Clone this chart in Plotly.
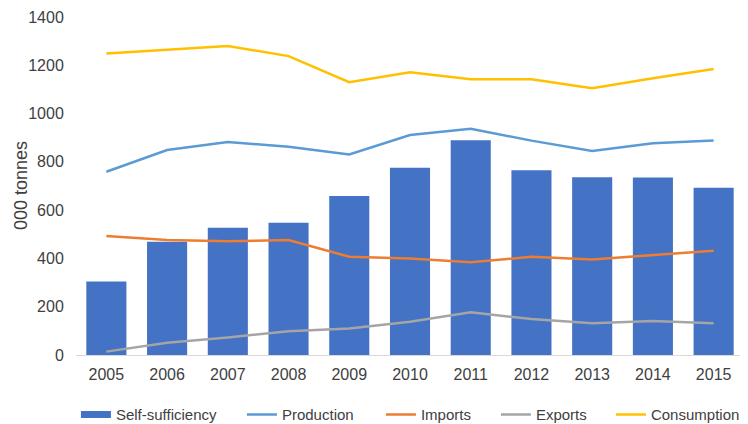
import plotly.graph_objects as go

# Datos (miles de toneladas)
years = ["2005", "2006", "2007", "2008", "2009", "2010", "2011", "2012", "2013", "2014", "2015"]
self_sufficiency = [304, 469, 527, 548, 659, 776, 889, 765, 736, 735, 693]
production = [759, 849, 882, 863, 831, 911, 937, 888, 845, 877, 888]
imports = [493, 476, 471, 476, 407, 400, 384, 407, 396, 414, 432]
exports = [14, 51, 73, 98, 110, 138, 177, 149, 131, 141, 131]
consumption = [1249, 1266, 1280, 1238, 1130, 1171, 1142, 1142, 1105, 1146, 1185]

FAMILY = "Liberation Sans, Arial, sans-serif"
font = dict(family=FAMILY, size=16, color="#404040")

fig = go.Figure()
# barras (la leyenda se dibuja con una traza auxiliar para tener el rectángulo ancho)
fig.add_trace(go.Bar(x=years, y=self_sufficiency, name="Self-sufficiency", showlegend=False,
                     marker=dict(color="#4472C4", line=dict(width=0)), width=0.66))
fig.add_trace(go.Scatter(x=[None], y=[None], name="Self-sufficiency", mode="lines",
                         line=dict(color="#4472C4", width=7), legendwidth=121))
fig.add_trace(go.Scatter(x=years, y=production, name="Production", mode="lines",
                         line=dict(color="#5B9BD5", width=2.5), legendwidth=94))
fig.add_trace(go.Scatter(x=years, y=imports, name="Imports", mode="lines",
                         line=dict(color="#ED7D31", width=2.5), legendwidth=70))
fig.add_trace(go.Scatter(x=years, y=exports, name="Exports", mode="lines",
                         line=dict(color="#A5A5A5", width=2.5), legendwidth=70))
fig.add_trace(go.Scatter(x=years, y=consumption, name="Consumption", mode="lines",
                         line=dict(color="#FFC000", width=2.5), legendwidth=90))

# título del eje y como anotación para colocarlo donde está en la referencia
fig.add_annotation(text="000 tonnes", textangle=-90, xref="paper", yref="paper",
                   x=-0.0823, y=0.5, xanchor="center", yanchor="middle",
                   showarrow=False, font=dict(family=FAMILY, size=18, color="#404040"))

# la página desplaza la figura 8 px; los márgenes lo compensan
fig.update_layout(
    width=748, height=424,
    margin=dict(l=68, r=12, t=9, b=77, autoexpand=False),
    paper_bgcolor="white", plot_bgcolor="white",
    font=font,
    showlegend=True,
    legend=dict(orientation="h", x=-0.0001, xanchor="left", y=-0.177, yanchor="middle",
                font=dict(family=FAMILY, size=15, color="#404040"),
                traceorder="normal", itemwidth=30, bgcolor="rgba(0,0,0,0)"),
    xaxis=dict(type="category", range=[-0.5, 10.5], showgrid=False,
               showline=True, linecolor="#D9D9D9", linewidth=1,
               ticks="outside", ticklen=5, tickcolor="rgba(0,0,0,0)"),
    yaxis=dict(range=[0, 1400], dtick=200, showgrid=False, zeroline=False,
               showline=False, ticks="outside", ticklen=8, tickcolor="rgba(0,0,0,0)"),
)

fig.write_html("out.html")
